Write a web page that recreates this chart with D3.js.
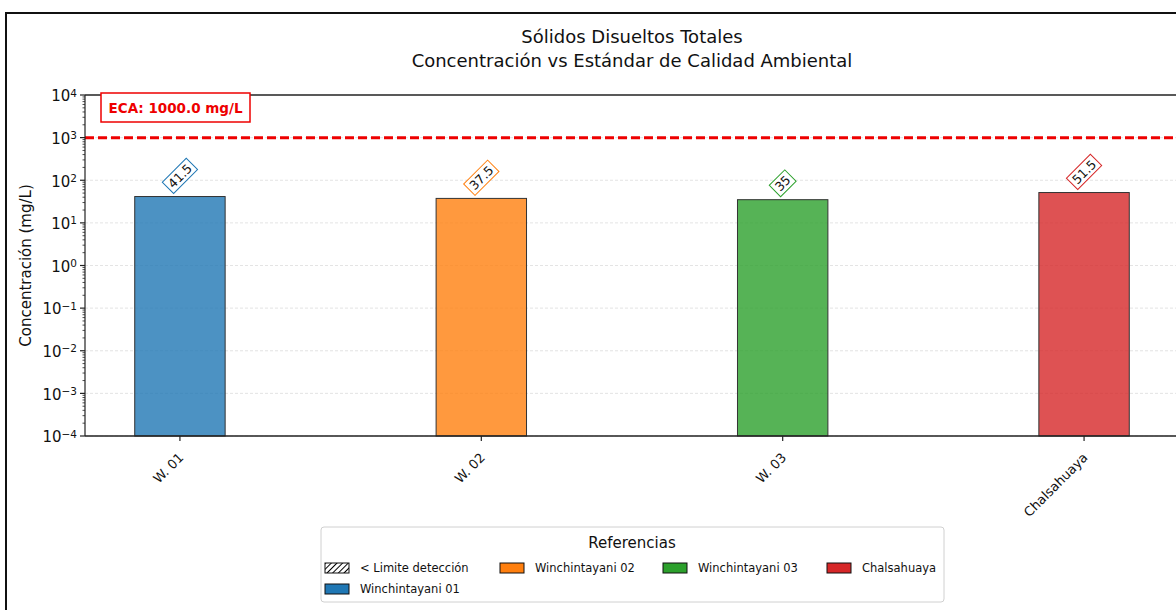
<!DOCTYPE html>
<html>
<head>
<meta charset="utf-8">
<script src="https://cdn.jsdelivr.net/npm/d3@7"></script>
<style>
  html, body { margin: 0; padding: 0; background: #fff; }
  svg { display: block; font-family: "DejaVu Sans", sans-serif; }
</style>
</head>
<body>
<div id="chart"></div>
<script>
// datos del gráfico
const estaciones = ["W. 01", "W. 02", "W. 03", "Chalsahuaya"];
const concentraciones = [41.5, 37.5, 35, 51.5];
const etiquetasValor = ["41.5", "37.5", "35", "51.5"];
const coloresBarra = ["#1f77b4", "#ff7f0e", "#2ca02c", "#d62728"];
const valorECA = 1000;
const textoECA = "ECA: 1000.0 mg/L";
const exponentesY = [-4, -3, -2, -1, 0, 1, 2, 3, 4];
const leyendaTextos = ["< Limite detección", "Winchintayani 02", "Winchintayani 03", "Chalsahuaya", "Winchintayani 01"];
const leyendaColores = [null, "#ff7f0e", "#2ca02c", "#d62728", "#1f77b4"];

const width = 1176, height = 610;
const margin = { top: 95, left: 85, right: 1179, bottom: 436 };

const svg = d3.select("#chart").append("svg")
  .attr("width", width).attr("height", height);

const defs = svg.append("defs");
const pat = defs.append("pattern")
  .attr("id", "hatch").attr("patternUnits", "userSpaceOnUse")
  .attr("width", 4).attr("height", 4).attr("patternTransform", "rotate(45)");
pat.append("rect").attr("width", 4).attr("height", 4).attr("fill", "#fff");
pat.append("line").attr("x1", 0).attr("y1", 0).attr("x2", 0).attr("y2", 4)
  .attr("stroke", "#000").attr("stroke-width", 2);

// marco de la figura
svg.append("rect")
  .attr("x", 6).attr("y", 13).attr("width", 1200).attr("height", 640)
  .attr("fill", "none").attr("stroke", "#111").attr("stroke-width", 2);

const x = d3.scalePoint()
  .domain(estaciones)
  .range([margin.left, margin.right])
  .padding(0.315);

const y = d3.scaleLog()
  .domain([1e-4, 1e4])
  .range([margin.bottom, margin.top]);

const barW = x.step() * 0.3;

// grilla
svg.append("g").selectAll("line")
  .data(exponentesY.slice(0, -1))
  .join("line")
  .attr("x1", margin.left).attr("x2", margin.right)
  .attr("y1", d => y(Math.pow(10, d))).attr("y2", d => y(Math.pow(10, d)))
  .attr("stroke", "#cfcfcf").attr("stroke-width", 0.8)
  .attr("stroke-dasharray", "3,2").attr("opacity", 0.7);

// barras
svg.append("g").selectAll("rect")
  .data(concentraciones)
  .join("rect")
  .attr("x", (d, i) => x(estaciones[i]) - barW / 2)
  .attr("width", barW)
  .attr("y", d => y(d))
  .attr("height", d => y(1e-4) - y(d))
  .attr("fill", (d, i) => coloresBarra[i])
  .attr("fill-opacity", 0.8)
  .attr("stroke", "#333").attr("stroke-width", 1);

// línea ECA
svg.append("line")
  .attr("x1", margin.left).attr("x2", margin.right)
  .attr("y1", y(valorECA)).attr("y2", y(valorECA))
  .attr("stroke", "#ee0000").attr("stroke-width", 3)
  .attr("stroke-dasharray", "9,4");

// ejes / spines
const axisG = svg.append("g");
axisG.append("line").attr("x1", margin.left).attr("x2", margin.right)
  .attr("y1", margin.top).attr("y2", margin.top).attr("stroke", "#222").attr("stroke-width", 1.6);
axisG.append("line").attr("x1", margin.left).attr("x2", margin.right)
  .attr("y1", margin.bottom).attr("y2", margin.bottom).attr("stroke", "#222").attr("stroke-width", 1.6);
axisG.append("line").attr("x1", margin.left).attr("x2", margin.left)
  .attr("y1", margin.top).attr("y2", margin.bottom).attr("stroke", "#222").attr("stroke-width", 1.2);

// ticks menores
const menores = [];
exponentesY.slice(0, -1).forEach(e => {
  for (let k = 2; k <= 9; k++) menores.push(k * Math.pow(10, e));
});
axisG.selectAll(".minor").data(menores).join("line")
  .attr("x1", margin.left - 2.5).attr("x2", margin.left)
  .attr("y1", d => y(d)).attr("y2", d => y(d))
  .attr("stroke", "#222").attr("stroke-width", 0.8);

// ticks mayores y etiquetas
const tickY = axisG.selectAll(".major").data(exponentesY).join("g")
  .attr("transform", d => `translate(${margin.left},${y(Math.pow(10, d))})`);
tickY.append("line").attr("x1", -5).attr("x2", 0).attr("stroke", "#222").attr("stroke-width", 1.2);
const tt = tickY.append("text")
  .attr("x", -8).attr("dy", "0.42em")
  .attr("text-anchor", "end").attr("font-size", 15).attr("fill", "#111");
tt.append("tspan").text("10");
tt.append("tspan").attr("dy", "-0.45em").attr("font-size", 10.5)
  .text(d => (d < 0 ? "\u2212" + Math.abs(d) : d));

// ticks eje x
const tickX = svg.append("g").selectAll("g").data(estaciones).join("g")
  .attr("transform", d => `translate(${x(d)},${margin.bottom})`);
tickX.append("line").attr("y1", 0).attr("y2", 5).attr("stroke", "#222").attr("stroke-width", 1.2);
tickX.append("text")
  .attr("transform", "translate(-2,16) rotate(-45)")
  .attr("text-anchor", "end").attr("dy", "0.7em")
  .attr("font-size", 13).attr("fill", "#111")
  .text(d => d);

// etiquetas de valor rotadas
const etq = svg.append("g").selectAll("g").data(concentraciones).join("g");
etq.each(function (d, i) {
  const g = d3.select(this);
  const t = g.append("text")
    .attr("text-anchor", "middle").attr("dy", "0.36em")
    .attr("font-size", 12.5).attr("fill", "#111")
    .text(etiquetasValor[i]);
  const w = t.node().getComputedTextLength();
  const bw = w + 6, bh = 16;
  g.insert("rect", "text")
    .attr("x", -bw / 2).attr("y", -bh / 2).attr("width", bw).attr("height", bh)
    .attr("fill", "#fff").attr("stroke", coloresBarra[i]).attr("stroke-width", 1);
  const ext = (bw + bh) / Math.SQRT2;
  g.attr("transform", `translate(${x(estaciones[i])},${y(d) - 3 - ext / 2}) rotate(-45)`);
});

// caja ECA
const ecaG = svg.append("g").attr("transform", "translate(101,93)");
ecaG.append("rect").attr("width", 149).attr("height", 29)
  .attr("fill", "#fff").attr("stroke", "#ee0000").attr("stroke-width", 1.5);
ecaG.append("text").attr("x", 74.5).attr("y", 15).attr("dy", "0.36em")
  .attr("text-anchor", "middle").attr("font-size", 13.5).attr("font-weight", "bold")
  .attr("fill", "#ee0000").text(textoECA);

// títulos
const cx = (margin.left + margin.right) / 2;
svg.append("text").attr("x", cx).attr("y", 43).attr("text-anchor", "middle")
  .attr("font-size", 18).attr("fill", "#111").text("Sólidos Disueltos Totales");
svg.append("text").attr("x", cx).attr("y", 67).attr("text-anchor", "middle")
  .attr("font-size", 18).attr("fill", "#111").text("Concentración vs Estándar de Calidad Ambiental");

svg.append("text")
  .attr("transform", `translate(31,${(margin.top + margin.bottom) / 2}) rotate(-90)`)
  .attr("text-anchor", "middle").attr("font-size", 15).attr("fill", "#111")
  .text("Concentración (mg/L)");

// leyenda
const leg = svg.append("g").attr("transform", "translate(321,527)");
leg.append("rect").attr("width", 623).attr("height", 75).attr("rx", 3)
  .attr("fill", "#fff").attr("stroke", "#d0d0d0").attr("stroke-width", 1);
leg.append("text").attr("x", 311).attr("y", 21).attr("text-anchor", "middle")
  .attr("font-size", 15).attr("fill", "#111").text("Referencias");
const colX = [4, 179, 342, 506];
const items = leg.selectAll(".item").data(leyendaTextos).join("g")
  .attr("transform", (d, i) => `translate(${colX[i % 4]},${i < 4 ? 36 : 57})`);
items.append("rect").attr("width", 24).attr("height", 10)
  .attr("fill", (d, i) => leyendaColores[i] ? leyendaColores[i] : "url(#hatch)")
  .attr("stroke", "#111").attr("stroke-width", 1);
items.append("text").attr("x", 35).attr("y", 5).attr("dy", "0.35em")
  .attr("font-size", 11.5).attr("fill", "#111").text(d => d);
</script>
</body>
</html>
